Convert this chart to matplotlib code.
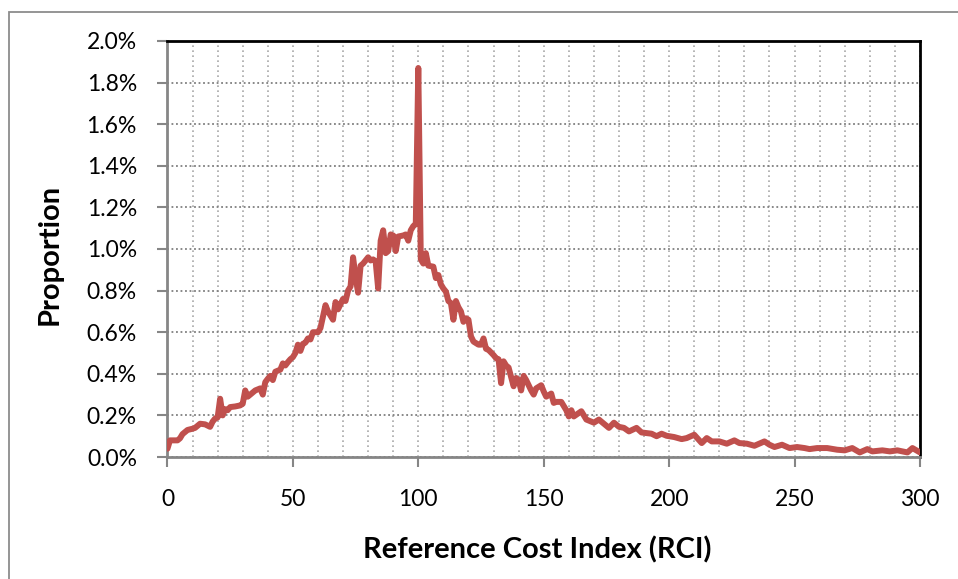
import matplotlib.pyplot as plt
from matplotlib.patches import Rectangle
from matplotlib.ticker import MultipleLocator, FuncFormatter

# RCI values and proportion (%)
rci = [0, 1, 2, 4, 5, 6, 8, 10, 11, 13, 15, 17, 18, 19, 20, 21, 22, 23, 24, 25,
       27, 29, 30, 31, 32, 33, 35, 37, 38, 39, 40, 41, 42, 43, 45, 46, 47, 48, 49, 50,
       51, 52, 53, 54, 55, 56, 57, 58, 60, 61, 63, 64, 66, 67, 68, 70, 71, 72, 73, 74,
       75, 76, 77, 78, 80, 81, 82, 83, 84, 85, 86, 87, 88, 89, 90, 91, 92, 94, 95, 96,
       97, 98, 99, 100, 101, 102, 103, 104, 106, 107, 108, 109, 110, 111, 112, 113, 114, 115, 116, 117,
       118, 119, 120, 121, 122, 124, 125, 126, 127, 128, 130, 131, 132, 133, 134, 135, 136, 138, 139, 140,
       141, 142, 143, 145, 146, 147, 149, 150, 151, 153, 154, 155, 157, 159, 160, 161, 162, 165, 167, 170,
       172, 174, 176, 178, 180, 182, 184, 187, 189, 193, 195, 197, 199, 202, 205, 207, 210, 213, 215, 217,
       220, 223, 226, 228, 231, 234, 238, 240, 242, 245, 248, 251, 254, 256, 259, 263, 267, 270, 273, 276,
       279, 281, 285, 288, 291, 295, 297, 300]
proportion = [0.04, 0.08, 0.08, 0.08, 0.09, 0.11, 0.13, 0.136, 0.14, 0.16, 0.157, 0.145, 0.17, 0.185, 0.19, 0.28, 0.20, 0.23, 0.225, 0.24,
              0.243, 0.248, 0.256, 0.32, 0.29, 0.30, 0.32, 0.33, 0.30, 0.36, 0.376, 0.39, 0.37, 0.41, 0.42, 0.45, 0.44, 0.456, 0.47, 0.48,
              0.50, 0.54, 0.51, 0.544, 0.55, 0.57, 0.565, 0.60, 0.60, 0.62, 0.73, 0.70, 0.66, 0.745, 0.71, 0.76, 0.75, 0.80, 0.82, 0.96,
              0.865, 0.79, 0.92, 0.93, 0.96, 0.945, 0.95, 0.94, 0.81, 1.04, 1.09, 0.98, 0.99, 1.07, 1.065, 0.99, 1.06, 1.065, 1.07, 1.04,
              1.09, 1.11, 1.12, 1.87, 0.95, 0.93, 0.98, 0.92, 0.915, 0.86, 0.875, 0.83, 0.81, 0.795, 0.75, 0.74, 0.66, 0.75, 0.72, 0.70,
              0.65, 0.667, 0.66, 0.58, 0.555, 0.54, 0.54, 0.57, 0.52, 0.515, 0.49, 0.475, 0.47, 0.355, 0.46, 0.44, 0.43, 0.34, 0.38, 0.37,
              0.32, 0.39, 0.37, 0.32, 0.30, 0.33, 0.345, 0.315, 0.29, 0.305, 0.26, 0.265, 0.265, 0.225, 0.195, 0.225, 0.195, 0.22, 0.18, 0.165,
              0.18, 0.16, 0.14, 0.165, 0.145, 0.14, 0.123, 0.14, 0.118, 0.112, 0.10, 0.112, 0.102, 0.096, 0.086, 0.091, 0.107, 0.067, 0.091, 0.075,
              0.075, 0.064, 0.08, 0.067, 0.064, 0.054, 0.075, 0.059, 0.048, 0.059, 0.043, 0.048, 0.043, 0.038, 0.043, 0.043, 0.035, 0.032, 0.043, 0.022,
              0.038, 0.027, 0.032, 0.027, 0.032, 0.022, 0.043, 0.022]

plt.rcParams['font.family'] = ['Lato', 'DejaVu Sans']

fig = plt.figure(figsize=(9.58, 5.79), dpi=100)
ax = fig.add_axes([0.1748, 0.2107, 0.7855, 0.7185])

# outer chart border
fig.patches.append(Rectangle((9 / 958, -0.05), 1.2, 1 - 12 / 579 + 0.05,
                             transform=fig.transFigure, fill=False,
                             edgecolor='#8c8c8c', linewidth=1.3))

ax.plot(rci, proportion, color='#C0504D', linewidth=4.3, solid_joinstyle='round',
        solid_capstyle='round', zorder=3)

ax.set_xlim(0, 300)
ax.set_ylim(0, 2.0)
ax.xaxis.set_major_locator(MultipleLocator(50))
ax.xaxis.set_minor_locator(MultipleLocator(10))
ax.yaxis.set_major_locator(MultipleLocator(0.2))
ax.yaxis.set_major_formatter(FuncFormatter(lambda v, p: f'{v:.1f}%'))

ax.grid(which='minor', axis='x', color='#a8a8a8', linestyle=(0, (1, 2)), linewidth=1.2)
ax.grid(which='major', axis='x', color='#a8a8a8', linestyle=(0, (1, 2)), linewidth=1.2)
ax.grid(which='major', axis='y', color='#7f7f7f', linestyle=(0, (1, 1.5)), linewidth=1.3)
ax.set_axisbelow(True)

for side in ['left', 'bottom']:
    ax.spines[side].set_color('#868686')
    ax.spines[side].set_linewidth(2)
for side in ['top', 'right']:
    ax.spines[side].set_color('black')
    ax.spines[side].set_linewidth(2)

ax.tick_params(which='major', direction='out', length=7, width=1.5, color='#868686',
               labelsize=16.5)
ax.tick_params(which='minor', length=0)
ax.tick_params(axis='y', pad=15)
ax.tick_params(axis='x', pad=16)

ax.set_xlabel('Reference Cost Index (RCI)', fontsize=21, fontweight='bold', va='center')
ax.set_ylabel('Proportion', fontsize=21, fontweight='bold', va='center')
ax.xaxis.set_label_coords(0.492, -0.2236)
ax.yaxis.set_label_coords(-0.156, 0.486)

fig.savefig('out.png', dpi=100)
